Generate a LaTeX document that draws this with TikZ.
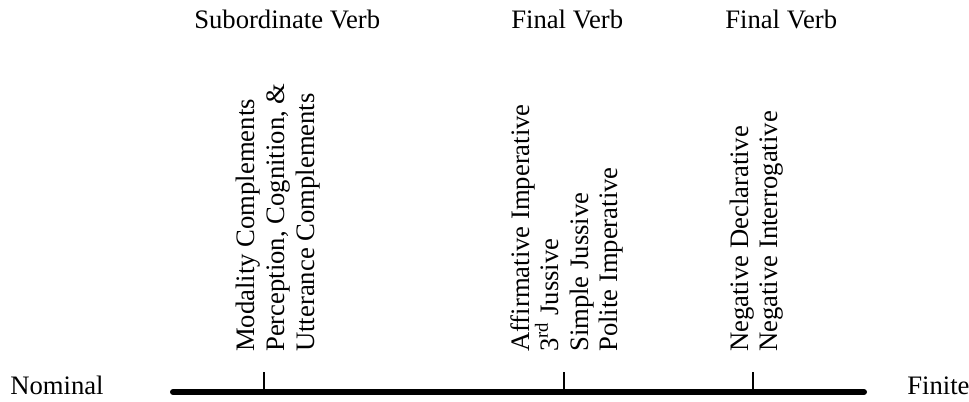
\documentclass[tikz,border=0pt]{standalone}
\usepackage{fontspec}
\setmainfont{Liberation Serif}
\begin{document}
\begin{tikzpicture}[x=0.75pt,y=-0.75pt,
  lbl/.style={inner sep=0pt,anchor=base west,font=\fontsize{20}{22.5}\selectfont},
  vlbl/.style={lbl,rotate=90},
  axis/.style={line width=4.5pt,line cap=round},
  tick/.style={line width=0.8pt}]
\useasboundingbox (0,0) rectangle (969,401);
% titles
\node[lbl] (t1) at (194,28) {Subordinate Verb};
\node[lbl] (t2) at (511,28) {Final Verb};
\node[lbl] (t3) at (725,28) {Final Verb};
% ends
\node[lbl] (nom) at (10,394) {Nominal};
\node[lbl] (fin) at (907,394) {Finite};
% axis
\coordinate (L) at (173,392);
\coordinate (R) at (864,392);
\draw[axis] (L) -- (R);
\coordinate (k1) at (264,392);
\coordinate (k2) at (564,392);
\coordinate (k3) at (753,392);
\draw[tick] (k1) -- ++(0,-20);
\draw[tick] (k2) -- ++(0,-20);
\draw[tick] (k3) -- ++(0,-20);
% group 1
\node[vlbl] (a1) at (254,352) {Modality Complements};
\node[vlbl] (a2) at (284,352) {Perception, Cognition, \&};
\node[vlbl] (a3) at (314,352) {Utterance Complements};
% group 2
\node[vlbl] (b1) at (529,352) {Affirmative Imperative};
\node[vlbl] (b2) at (558,352) {3\textsuperscript{rd} Jussive};
\node[vlbl] (b3) at (588,352) {Simple Jussive};
\node[vlbl] (b4) at (617,352) {Polite Imperative};
% group 3
\node[vlbl] (c1) at (748,352) {Negative Declarative};
\node[vlbl] (c2) at (777,352) {Negative Interrogative};
\end{tikzpicture}
\end{document}
